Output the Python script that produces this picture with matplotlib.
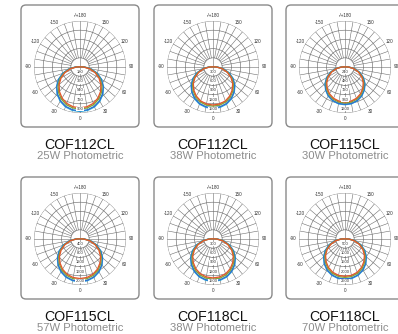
import numpy as np
import matplotlib
matplotlib.use('Agg')
import matplotlib.pyplot as plt
from matplotlib.patches import FancyBboxPatch

plt.rcParams['font.family'] = ['Liberation Sans', 'DejaVu Sans']

# candela values, 0 = straight down, mirrored for the other side
angles = [0, 10, 20, 30, 40, 50, 60, 70, 80, 90, 100]

titles = ['COF112CL', 'COF112CL', 'COF115CL', 'COF115CL', 'COF118CL', 'COF118CL']
subtitles = ['25W Photometric', '38W Photometric', '30W Photometric',
             '57W Photometric', '38W Photometric', '70W Photometric']
ring_labels = [
    [180, 360, 540, 720, 900],
    [300, 600, 900, 1200, 1500],
    [240, 480, 720, 960, 1200],
    [400, 800, 1200, 1600, 2000],
    [300, 600, 900, 1200, 1500],
    [500, 1000, 1500, 2000, 2500],
]
angle_ticks = [0, 30, 60, 90, 120, 150, 180, 210, 240, 270, 300, 330]
angle_labels = ['0', '30', '60', '90', '120', '150', '-/+180', '-150', '-120', '-90', '-60', '-30']

# series order: cyan, blue, green, orange
cof112_25w = [
    [870, 862, 832, 776, 697, 602, 490, 360, 222, 90, 20],
    [858, 850, 820, 764, 686, 592, 480, 352, 216, 86, 18],
    [822, 814, 784, 728, 652, 560, 452, 330, 200, 78, 15],
    [800, 790, 758, 702, 626, 534, 428, 310, 185, 70, 12],
]
cof112_38w = [
    [1350, 1338, 1290, 1203, 1080, 935, 762, 560, 345, 140, 30],
    [1330, 1318, 1270, 1184, 1063, 920, 748, 548, 336, 135, 28],
    [1275, 1262, 1215, 1130, 1012, 872, 706, 515, 312, 122, 24],
    [1240, 1226, 1178, 1093, 976, 838, 675, 490, 294, 112, 20],
]
cof115_30w = [
    [985, 976, 940, 877, 788, 682, 556, 408, 252, 102, 22],
    [975, 966, 930, 867, 779, 673, 548, 402, 247, 99, 21],
    [940, 930, 895, 833, 747, 644, 522, 381, 232, 90, 18],
    [915, 905, 870, 808, 723, 621, 502, 365, 220, 84, 16],
]
cof115_57w = [
    [1860, 1843, 1776, 1656, 1488, 1288, 1050, 772, 476, 192, 42],
    [1840, 1823, 1756, 1637, 1470, 1272, 1036, 762, 468, 188, 40],
    [1770, 1752, 1686, 1568, 1405, 1212, 984, 720, 440, 172, 34],
    [1720, 1701, 1634, 1517, 1356, 1166, 944, 688, 418, 160, 30],
]
cof118_38w = [
    [1380, 1367, 1318, 1229, 1104, 956, 779, 573, 353, 143, 31],
    [1362, 1349, 1300, 1212, 1088, 942, 767, 563, 346, 140, 30],
    [1310, 1297, 1248, 1162, 1042, 899, 730, 534, 326, 128, 25],
    [1270, 1256, 1207, 1121, 1002, 862, 697, 508, 308, 118, 21],
]
cof118_70w = [
    [2200, 2179, 2101, 1960, 1760, 1524, 1242, 913, 563, 228, 50],
    [2175, 2154, 2076, 1936, 1738, 1504, 1225, 900, 554, 224, 48],
    [2090, 2069, 1991, 1854, 1662, 1434, 1164, 852, 520, 204, 40],
    [2030, 2008, 1929, 1791, 1602, 1378, 1114, 812, 494, 190, 34],
]
charts = [cof112_25w, cof112_38w, cof115_30w, cof115_57w, cof118_38w, cof118_70w]
colors = ['#33b2d8', '#2d6ed2', '#79aa3c', '#e4572b']

W, H = 398, 334
fig = plt.figure(figsize=(W / 100, H / 100), dpi=100)
bg = fig.add_axes([0, 0, 1, 1])
bg.set_xlim(0, W)
bg.set_ylim(H, 0)
bg.axis('off')

card_x = [21, 154, 286]
card_y = [5, 177]
card_w, card_h = 118, 122
R = 46

for k in range(6):
    row, col = divmod(k, 3)
    x0, y0 = card_x[col], card_y[row]
    bg.add_patch(FancyBboxPatch((x0, y0), card_w, card_h,
                                boxstyle='round,pad=0,rounding_size=5',
                                fc='white', ec='#8a8a8a', lw=1.0))
    cx = x0 + card_w / 2
    bg.text(cx, y0 + card_h + 18, titles[k], ha='center', va='center',
            fontsize=10.2, color='#111111')
    bg.text(cx, y0 + card_h + 29, subtitles[k], ha='center', va='center',
            fontsize=8.1, color='#8c8c8c')

    cy = y0 + 62
    ax = fig.add_axes([(cx - R) / W, 1 - (cy + R) / H, 2 * R / W, 2 * R / H],
                      projection='polar')
    ax.set_theta_zero_location('S')
    ax.set_theta_direction(1)
    ax.axis('off')
    rmax = ring_labels[k][-1]
    step = ring_labels[k][0]
    ax.set_ylim(0, rmax)

    t = np.linspace(0, 2 * np.pi, 200)
    for r in ring_labels[k]:
        ax.plot(t, np.full_like(t, r), color='#6e6e6e', lw=0.45)
    for a in range(0, 360, 10):
        r0 = 0 if a % 90 == 0 else step
        ax.plot([np.radians(a)] * 2, [r0, rmax], color='#6e6e6e', lw=0.4)

    vals = charts[k]
    th = np.radians(np.concatenate([-np.array(angles[::-1]), angles[1:]]))
    for s, c in zip(vals, colors):
        r = np.concatenate([s[::-1], s[1:]])
        ax.plot(th, r, color=c, lw=0.95)

    for a, lab in zip(angle_ticks, angle_labels):
        ax.text(np.radians(a), rmax * 1.12, lab, ha='center', va='center',
                fontsize=3.3, color='#333333')
    for r in ring_labels[k]:
        ax.text(0, r - step * 0.45, str(r), ha='center', va='center',
                fontsize=3.0, color='#333333',
                bbox=dict(fc='white', ec='none', pad=0.2))

fig.savefig('out.png', dpi=100)
